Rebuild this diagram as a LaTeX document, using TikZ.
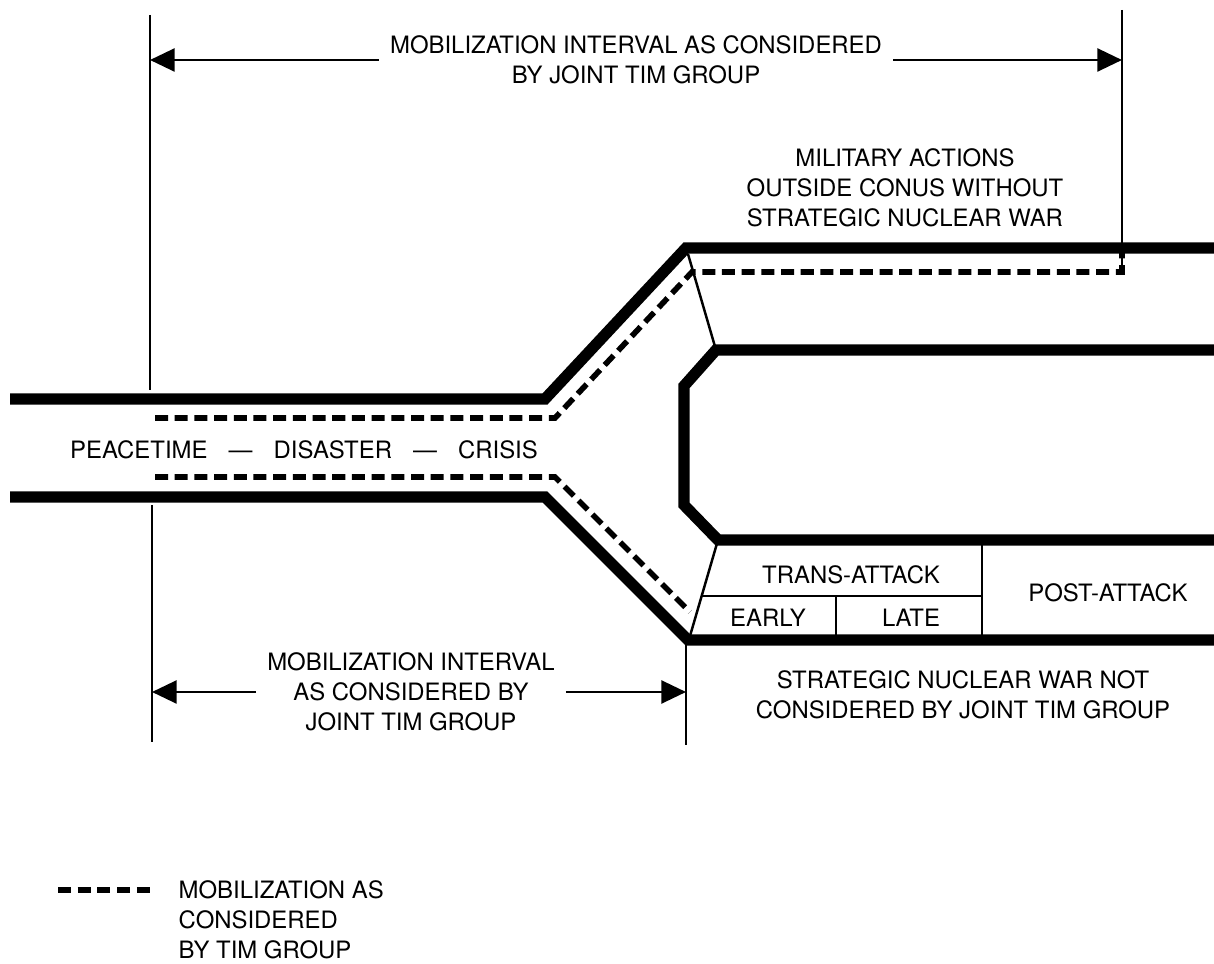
\documentclass[tikz,border=0pt]{standalone}
\usepackage{fontspec}
\setmainfont{TeX Gyre Heros}
\usetikzlibrary{arrows.meta,positioning,calc}

\begin{document}
\begin{tikzpicture}[x=0.01cm,y=-0.01cm,
  wall/.style={line width=3.2pt,line join=miter},
  mob/.style={line width=1.6pt,dash pattern=on 3.7pt off 1.9pt},
  guide/.style={line width=0.7pt},
  dim/.style={-{Triangle[length=7pt,width=6.5pt]},line width=0.8pt},
  lbl/.style={font=\fontsize{6.8}{8.5}\selectfont,align=center,inner ysep=0pt,inner xsep=3pt}
]
\useasboundingbox (0,0) rectangle (1214,964);

% guide lines
\coordinate (ltop) at (150,15);
\coordinate (lbot) at (150,390);
\coordinate (rtop) at (1122,10);
\coordinate (rbot) at (1122,272);
\coordinate (blt) at (152,505);
\coordinate (blb) at (152,742);
\coordinate (bmt) at (686,640);
\coordinate (bmb) at (686,745);
\draw[guide] (ltop) -- (lbot);
\draw[guide] (rtop) -- (rbot);
\draw[guide] (blt) -- (blb);
\draw[guide] (bmt) -- (bmb);

% channel walls
\draw[wall] (10,399) -- (545,399) -- (686,248) -- (1214,248);
\draw[wall] (10,497) -- (545,497) -- (688,640) -- (1214,640);
\draw[wall] (1214,350) -- (716,350) -- (684,386) -- (684,505) -- (718,540) -- (1214,540);

% mobilization paths
\draw[mob] (155,418) -- (555,418) -- (692,272) -- (1122,272) -- (1122,252);
\draw[mob] (155,477) -- (555,477) -- (690,612);

% phase boxes
\draw[guide] (688,254) -- (716,350);
\draw[guide] (718,540) -- (690,636);
\draw[guide] (701,596) -- (982,596);
\draw[guide] (982,540) -- (982,640);
\draw[guide] (836,596) -- (836,640);

% labels
\node[lbl] (topint) at (636,60) {MOBILIZATION INTERVAL AS CONSIDERED\\BY JOINT TIM GROUP};
\node[lbl] (milact) at (905,188) {MILITARY ACTIONS\\OUTSIDE CONUS WITHOUT\\STRATEGIC NUCLEAR WAR};
\node[lbl] (peace) at (304,450) {PEACETIME\hspace{6pt}---\hspace{6pt}DISASTER\hspace{6pt}---\hspace{6pt}CRISIS};
\node[lbl] (trans) at (851,575) {TRANS-ATTACK};
\node[lbl] (early) at (768,618) {EARLY};
\node[lbl] (late) at (911,618) {LATE};
\node[lbl] (post) at (1108,593) {POST-ATTACK};
\node[lbl] (botint) at (411,692) {MOBILIZATION INTERVAL\\AS CONSIDERED BY\\JOINT TIM GROUP};
\node[lbl] (snw) at (963,695) {STRATEGIC NUCLEAR WAR NOT\\CONSIDERED BY JOINT TIM GROUP};

% interval arrows
\draw[dim] (topint.west) -- (topint.west -| ltop);
\draw[dim] (topint.east) -- (topint.east -| rtop);
\draw[dim] (botint.west) -- (botint.west -| blt);
\draw[dim] (botint.east) -- (botint.east -| bmt);

% legend
\coordinate (keya) at (58,890);
\coordinate (keyb) at (155,890);
\draw[mob] (keya) -- (keyb);
\node[lbl,align=left,anchor=north west,inner xsep=0pt] (key) at (178,880) {MOBILIZATION AS\\CONSIDERED\\BY TIM GROUP};
\end{tikzpicture}
\end{document}
